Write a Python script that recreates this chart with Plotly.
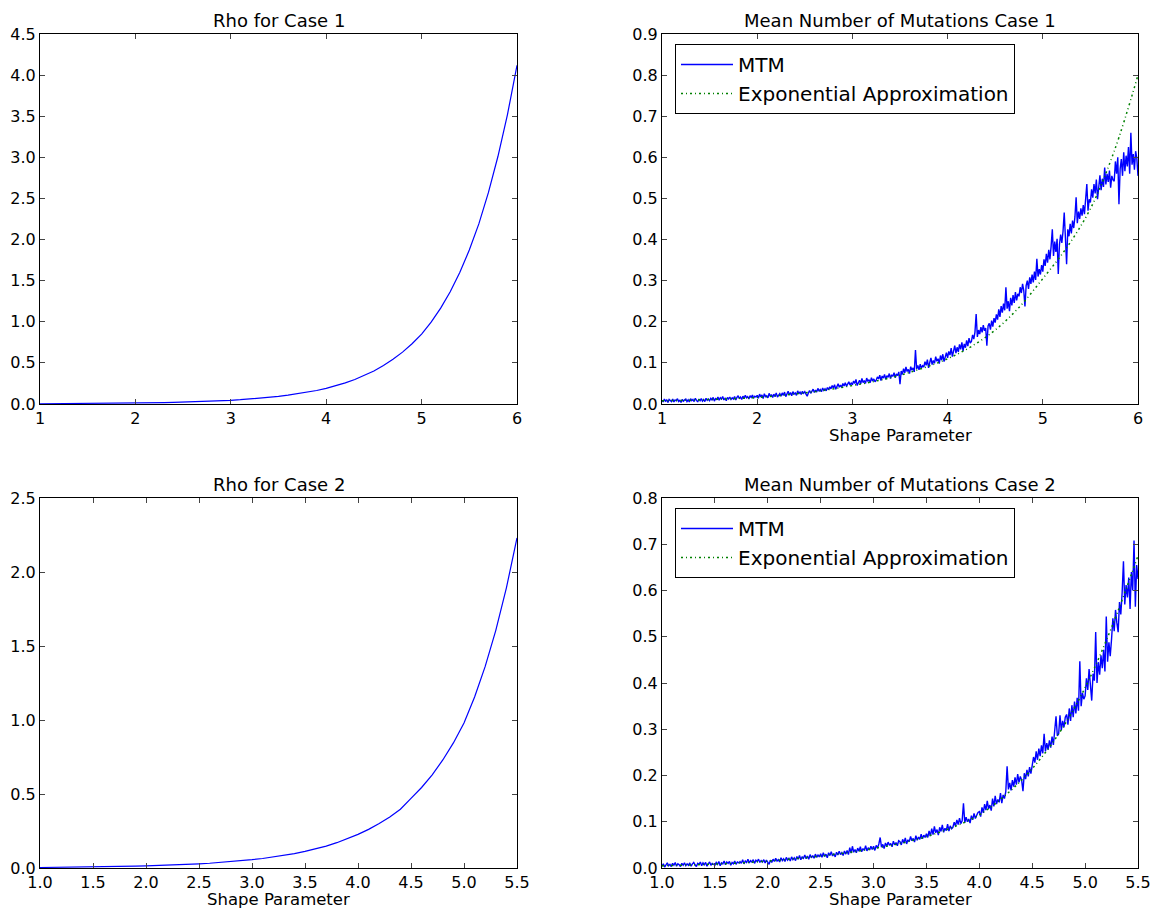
import numpy as np
import plotly.graph_objects as go

# ---------------- data ----------------
rho_case1 = [0.0030, 0.0034, 0.0039, 0.0044, 0.0050, 0.0057, 0.0065, 0.0074, 0.0085, 0.0097,
             0.0110, 0.0127, 0.0146, 0.0168, 0.0193, 0.0222, 0.0256, 0.0294, 0.0339, 0.0390,
             0.045, 0.052, 0.060, 0.069, 0.080, 0.092, 0.107, 0.123, 0.142, 0.164,
             0.190, 0.221, 0.257, 0.298, 0.346, 0.402, 0.468, 0.543, 0.631, 0.733,
             0.850, 0.995, 1.166, 1.365, 1.599, 1.872, 2.19, 2.57, 3.01, 3.52, 4.12]

rho_case2 = [0.0035, 0.0040, 0.0046, 0.0053, 0.0061, 0.0070, 0.0080, 0.0092, 0.0106, 0.0122,
             0.0140, 0.0161, 0.0185, 0.0212, 0.0244, 0.0280, 0.0322, 0.0370, 0.0425, 0.0488,
             0.056, 0.0643, 0.0739, 0.0849, 0.0975, 0.112, 0.129, 0.148, 0.171, 0.197,
             0.227, 0.261, 0.300, 0.345, 0.397, 0.470, 0.544, 0.630, 0.730, 0.845,
             0.98, 1.155, 1.362, 1.606, 1.893, 2.23]

mtm_case1 = [
    0.009, 0.005, 0.012, 0.007, 0.010, 0.004, 0.011, 0.008, 0.006, 0.012, 0.005, 0.010, 0.008, 0.013, 0.006, 0.009, 0.004, 0.011, 0.007, 0.010,
    0.012, 0.006, 0.010, 0.005, 0.013, 0.008, 0.011, 0.006, 0.014, 0.009, 0.005, 0.012, 0.008, 0.013, 0.007, 0.011, 0.006, 0.014, 0.009, 0.012,
    0.008, 0.014, 0.010, 0.016, 0.007, 0.013, 0.011, 0.017, 0.009, 0.015, 0.012, 0.018, 0.010, 0.014, 0.008, 0.016, 0.012, 0.017, 0.011, 0.015,
    0.012, 0.018, 0.010, 0.016, 0.020, 0.013, 0.017, 0.011, 0.019, 0.014, 0.021, 0.015, 0.018, 0.012, 0.020, 0.016, 0.022, 0.014, 0.019, 0.017,
    0.021, 0.014, 0.024, 0.017, 0.022, 0.013, 0.025, 0.018, 0.020, 0.015, 0.026, 0.019, 0.023, 0.016, 0.024, 0.018, 0.027, 0.017, 0.022, 0.025,
    0.019, 0.027, 0.021, 0.029, 0.018, 0.025, 0.031, 0.022, 0.028, 0.020, 0.030, 0.024, 0.027, 0.021, 0.032, 0.025, 0.029, 0.023, 0.031, 0.026,
    0.030, 0.024, 0.019, 0.027, 0.033, 0.026, 0.031, 0.036, 0.028, 0.034, 0.029, 0.038, 0.031, 0.035, 0.030, 0.039, 0.033, 0.037, 0.032, 0.040,
    0.035, 0.042, 0.037, 0.045, 0.039, 0.047, 0.036, 0.044, 0.049, 0.041, 0.046, 0.040, 0.050, 0.044, 0.052, 0.043, 0.048, 0.054, 0.046, 0.051,
    0.047, 0.056, 0.050, 0.060, 0.045, 0.054, 0.058, 0.049, 0.062, 0.052, 0.057, 0.050, 0.063, 0.055, 0.059, 0.052, 0.064, 0.056, 0.061, 0.054,
    0.058, 0.066, 0.061, 0.070, 0.057, 0.068, 0.063, 0.072, 0.060, 0.069, 0.065, 0.074, 0.062, 0.071, 0.067, 0.076, 0.064, 0.073, 0.069, 0.078,
    0.048, 0.080, 0.072, 0.086, 0.076, 0.090, 0.079, 0.084, 0.074, 0.091, 0.082, 0.088, 0.078, 0.131, 0.085, 0.094, 0.083, 0.097, 0.087, 0.093,
    0.090, 0.103, 0.094, 0.108, 0.088, 0.101, 0.112, 0.096, 0.106, 0.099, 0.115, 0.104, 0.110, 0.098, 0.118, 0.107, 0.121, 0.103, 0.114, 0.125,
    0.112, 0.128, 0.119, 0.136, 0.115, 0.131, 0.142, 0.124, 0.138, 0.127, 0.145, 0.133, 0.150, 0.129, 0.146, 0.137, 0.155, 0.141, 0.160, 0.148,
    0.152, 0.168, 0.158, 0.175, 0.219, 0.163, 0.180, 0.170, 0.187, 0.174, 0.192, 0.178, 0.185, 0.142, 0.190, 0.196, 0.181, 0.203, 0.188, 0.209,
    0.198, 0.218, 0.205, 0.230, 0.212, 0.238, 0.222, 0.244, 0.228, 0.284, 0.232, 0.250, 0.226, 0.258, 0.240, 0.265, 0.246, 0.272, 0.252, 0.268,
    0.262, 0.284, 0.270, 0.292, 0.276, 0.237, 0.288, 0.300, 0.280, 0.308, 0.292, 0.315, 0.296, 0.322, 0.302, 0.353, 0.310, 0.328, 0.315, 0.338,
    0.322, 0.352, 0.336, 0.365, 0.344, 0.375, 0.352, 0.384, 0.425, 0.360, 0.395, 0.370, 0.402, 0.316, 0.388, 0.412, 0.392, 0.420, 0.466, 0.405,
    0.340, 0.425, 0.408, 0.438, 0.415, 0.446, 0.428, 0.455, 0.503, 0.440, 0.468, 0.450, 0.476, 0.458, 0.484, 0.462, 0.492, 0.535, 0.470, 0.498,
    0.490, 0.522, 0.502, 0.535, 0.512, 0.546, 0.498, 0.530, 0.556, 0.520, 0.548, 0.528, 0.575, 0.534, 0.560, 0.540, 0.568, 0.526, 0.555, 0.545,
    0.542, 0.590, 0.560, 0.600, 0.486, 0.572, 0.596, 0.555, 0.612, 0.566, 0.604, 0.578, 0.625, 0.560, 0.660, 0.582, 0.608, 0.570, 0.615, 0.598,
    0.555]

mtm_case2 = [
    0.004, 0.009, 0.002, 0.007, 0.011, 0.005, 0.008, 0.003, 0.010, 0.006, 0.012, 0.004, 0.009, 0.007, 0.003, 0.010, 0.006, 0.011, 0.005, 0.009,
    0.006, 0.011, 0.004, 0.009, 0.012, 0.007, 0.003, 0.010, 0.008, 0.013, 0.005, 0.011, 0.007, 0.012, 0.004, 0.009, 0.013, 0.006, 0.010, 0.008,
    0.006, 0.012, 0.008, 0.014, 0.005, 0.011, 0.009, 0.015, 0.007, 0.013, 0.010, 0.014, 0.006, 0.012, 0.009, 0.015, 0.008, 0.013, 0.011, 0.014,
    0.010, 0.018, 0.009, 0.015, 0.012, 0.019, 0.011, 0.016, 0.013, 0.018, 0.010, 0.017, 0.014, 0.019, 0.012, 0.016, 0.013, 0.018, 0.011, 0.017,
    0.013, 0.008, 0.017, 0.012, 0.019, 0.014, 0.021, 0.015, 0.018, 0.013, 0.022, 0.016, 0.020, 0.014, 0.023, 0.017, 0.021, 0.015, 0.024, 0.018,
    0.022, 0.016, 0.025, 0.019, 0.027, 0.018, 0.024, 0.021, 0.028, 0.020, 0.026, 0.019, 0.029, 0.022, 0.027, 0.021, 0.030, 0.023, 0.028, 0.024,
    0.031, 0.023, 0.033, 0.025, 0.030, 0.022, 0.033, 0.027, 0.035, 0.026, 0.031, 0.024, 0.034, 0.028, 0.036, 0.029, 0.033, 0.027, 0.037, 0.030,
    0.038, 0.029, 0.044, 0.032, 0.047, 0.034, 0.040, 0.033, 0.043, 0.036, 0.046, 0.035, 0.042, 0.038, 0.048, 0.037, 0.044, 0.039, 0.047, 0.040,
    0.047, 0.038, 0.049, 0.043, 0.052, 0.066, 0.045, 0.051, 0.042, 0.054, 0.047, 0.056, 0.049, 0.053, 0.046, 0.058, 0.050, 0.055, 0.048, 0.059,
    0.057, 0.050, 0.062, 0.054, 0.065, 0.052, 0.061, 0.057, 0.068, 0.059, 0.064, 0.056, 0.070, 0.060, 0.067, 0.062, 0.073, 0.063, 0.071, 0.066,
    0.074, 0.066, 0.080, 0.069, 0.085, 0.072, 0.090, 0.076, 0.083, 0.071, 0.088, 0.079, 0.093, 0.077, 0.086, 0.081, 0.095, 0.080, 0.091, 0.085,
    0.088, 0.099, 0.091, 0.104, 0.094, 0.108, 0.096, 0.102, 0.140, 0.098, 0.110, 0.100, 0.106, 0.097, 0.113, 0.104, 0.118, 0.107, 0.114, 0.120,
    0.122, 0.111, 0.131, 0.119, 0.138, 0.125, 0.145, 0.128, 0.136, 0.124, 0.150, 0.133, 0.156, 0.138, 0.148, 0.142, 0.162, 0.140, 0.158, 0.150,
    0.165, 0.220, 0.170, 0.184, 0.168, 0.190, 0.176, 0.196, 0.180, 0.203, 0.185, 0.198, 0.190, 0.166, 0.205, 0.192, 0.212, 0.198, 0.218, 0.204,
    0.222, 0.240, 0.228, 0.252, 0.234, 0.258, 0.242, 0.265, 0.248, 0.290, 0.252, 0.270, 0.256, 0.276, 0.260, 0.284, 0.266, 0.292, 0.328, 0.286,
    0.290, 0.330, 0.298, 0.318, 0.304, 0.326, 0.332, 0.310, 0.345, 0.318, 0.352, 0.326, 0.360, 0.334, 0.368, 0.340, 0.447, 0.350, 0.378, 0.365,
    0.372, 0.410, 0.385, 0.430, 0.395, 0.362, 0.420, 0.405, 0.510, 0.400, 0.445, 0.418, 0.460, 0.432, 0.472, 0.425, 0.544, 0.446, 0.488, 0.458,
    0.495, 0.540, 0.512, 0.558, 0.530, 0.510, 0.575, 0.548, 0.595, 0.663, 0.570, 0.612, 0.585, 0.628, 0.560, 0.640, 0.600, 0.708, 0.565, 0.655,
    0.625]

expo_case1 = [0.008, 0.009, 0.011, 0.013, 0.016, 0.021, 0.027, 0.035, 0.045, 0.056,
              0.070, 0.088, 0.110, 0.140, 0.180, 0.235, 0.305, 0.380, 0.475, 0.615, 0.800]

expo_case2 = [0.005, 0.0065, 0.0085, 0.011, 0.015, 0.020, 0.026, 0.033, 0.042, 0.053,
              0.068, 0.088, 0.115, 0.158, 0.215, 0.290, 0.390, 0.520, 0.675]

shape_range1 = (1.0, 6.0)
shape_range2 = (1.0, 5.5)

titles = ["Rho for Case 1", "Mean Number of Mutations Case 1",
          "Rho for Case 2", "Mean Number of Mutations Case 2"]
xlabel = "Shape Parameter"
legend_names = ["MTM", "Exponential Approximation"]


def grid(rng, values):
    return np.linspace(rng[0], rng[1], len(values))


BLUE = "#0000ff"
GREEN = "#008000"
FONT = "DejaVu Sans"
W, H = 1151, 908


def px_x(p):
    return p / W


def px_y(p):
    return 1 - p / H


# domains (paper coordinates), from pixel positions of the target layout
xd_left = [px_x(40), px_x(517)]
xd_right = [px_x(662), px_x(1138)]
yd_top = [px_y(404), px_y(34)]
yd_bot = [px_y(868), px_y(498)]

EXPO_DASH = "2px,3px,1px,3px"

fig = go.Figure()

fig.add_trace(go.Scatter(x=grid(shape_range1, rho_case1), y=rho_case1, mode="lines",
                         line=dict(color=BLUE, width=1.2), showlegend=False,
                         xaxis="x", yaxis="y"))
fig.add_trace(go.Scatter(x=grid(shape_range1, mtm_case1), y=mtm_case1, mode="lines",
                         name=legend_names[0], line=dict(color=BLUE, width=1.4),
                         xaxis="x2", yaxis="y2", legend="legend"))
fig.add_trace(go.Scatter(x=grid(shape_range1, expo_case1), y=expo_case1, mode="lines",
                         name=legend_names[1],
                         line=dict(color=GREEN, width=1.5, dash=EXPO_DASH, shape="spline"),
                         xaxis="x2", yaxis="y2", legend="legend"))
fig.add_trace(go.Scatter(x=grid(shape_range2, rho_case2), y=rho_case2, mode="lines",
                         line=dict(color=BLUE, width=1.2), showlegend=False,
                         xaxis="x3", yaxis="y3"))
fig.add_trace(go.Scatter(x=grid(shape_range2, mtm_case2), y=mtm_case2, mode="lines",
                         name=legend_names[0], line=dict(color=BLUE, width=1.4),
                         xaxis="x4", yaxis="y4", legend="legend2"))
fig.add_trace(go.Scatter(x=grid(shape_range2, expo_case2), y=expo_case2, mode="lines",
                         name=legend_names[1],
                         line=dict(color=GREEN, width=1.5, dash=EXPO_DASH, shape="spline"),
                         xaxis="x4", yaxis="y4", legend="legend2"))

common = dict(showline=True, linecolor="black", linewidth=1, mirror="ticks",
              ticks="inside", ticklen=5, tickcolor="#444", showgrid=False,
              zeroline=False, automargin=False, ticklabeloverflow="allow",
              tickfont=dict(size=16, family=FONT, color="black"))

legend_style = dict(xanchor="left", yanchor="top", bordercolor="black", borderwidth=1,
                    bgcolor="white", font=dict(size=20, family=FONT),
                    itemwidth=52, tracegroupgap=0)

fig.update_layout(
    template="none",
    width=W, height=H,
    margin=dict(l=0, r=0, t=0, b=0, pad=0),
    paper_bgcolor="white", plot_bgcolor="white",
    font=dict(family=FONT, color="black"),
    xaxis=dict(domain=xd_left, anchor="y", range=[1, 6], dtick=1, tick0=1, tickformat="d", **common),
    yaxis=dict(domain=yd_top, anchor="x", range=[0, 4.5], dtick=0.5, tickformat=".1f", **common),
    xaxis2=dict(domain=xd_right, anchor="y2", range=[1, 6], dtick=1, tick0=1, tickformat="d", **common),
    yaxis2=dict(domain=yd_top, anchor="x2", range=[0, 0.9], dtick=0.1, tickformat=".1f", **common),
    xaxis3=dict(domain=xd_left, anchor="y3", range=[1, 5.5], dtick=0.5, tick0=1, tickformat=".1f", **common),
    yaxis3=dict(domain=yd_bot, anchor="x3", range=[0, 2.5], dtick=0.5, tickformat=".1f", **common),
    xaxis4=dict(domain=xd_right, anchor="y4", range=[1, 5.5], dtick=0.5, tick0=1, tickformat=".1f", **common),
    yaxis4=dict(domain=yd_bot, anchor="x4", range=[0, 0.8], dtick=0.1, tickformat=".1f", **common),
    legend=dict(x=px_x(675), y=px_y(44), **legend_style),
    legend2=dict(x=px_x(675), y=px_y(508), **legend_style),
)

annotations = []
centers = [(sum(xd_left) / 2, yd_top[1]), (sum(xd_right) / 2, yd_top[1]),
           (sum(xd_left) / 2, yd_bot[1]), (sum(xd_right) / 2, yd_bot[1])]
for t, (cx, cy) in zip(titles, centers):
    annotations.append(dict(text=t, x=cx, y=cy, xref="paper", yref="paper",
                            xanchor="center", yanchor="bottom", yshift=1,
                            showarrow=False, font=dict(size=18, family=FONT)))
for cx, cy in [(sum(xd_right) / 2, yd_top[0]), (sum(xd_left) / 2, yd_bot[0]),
               (sum(xd_right) / 2, yd_bot[0])]:
    annotations.append(dict(text=xlabel, x=cx, y=cy, xref="paper", yref="paper",
                            xanchor="center", yanchor="top", yshift=-20,
                            showarrow=False, font=dict(size=16.5, family=FONT)))
fig.update_layout(annotations=annotations)

# remove the default page margin so the figure fills the window exactly; hide the modebar
fig.write_html(
    "out.html",
    config={"displayModeBar": False},
    post_script="document.body.style.margin='0px';"
                "document.documentElement.style.overflow='hidden';",
)
